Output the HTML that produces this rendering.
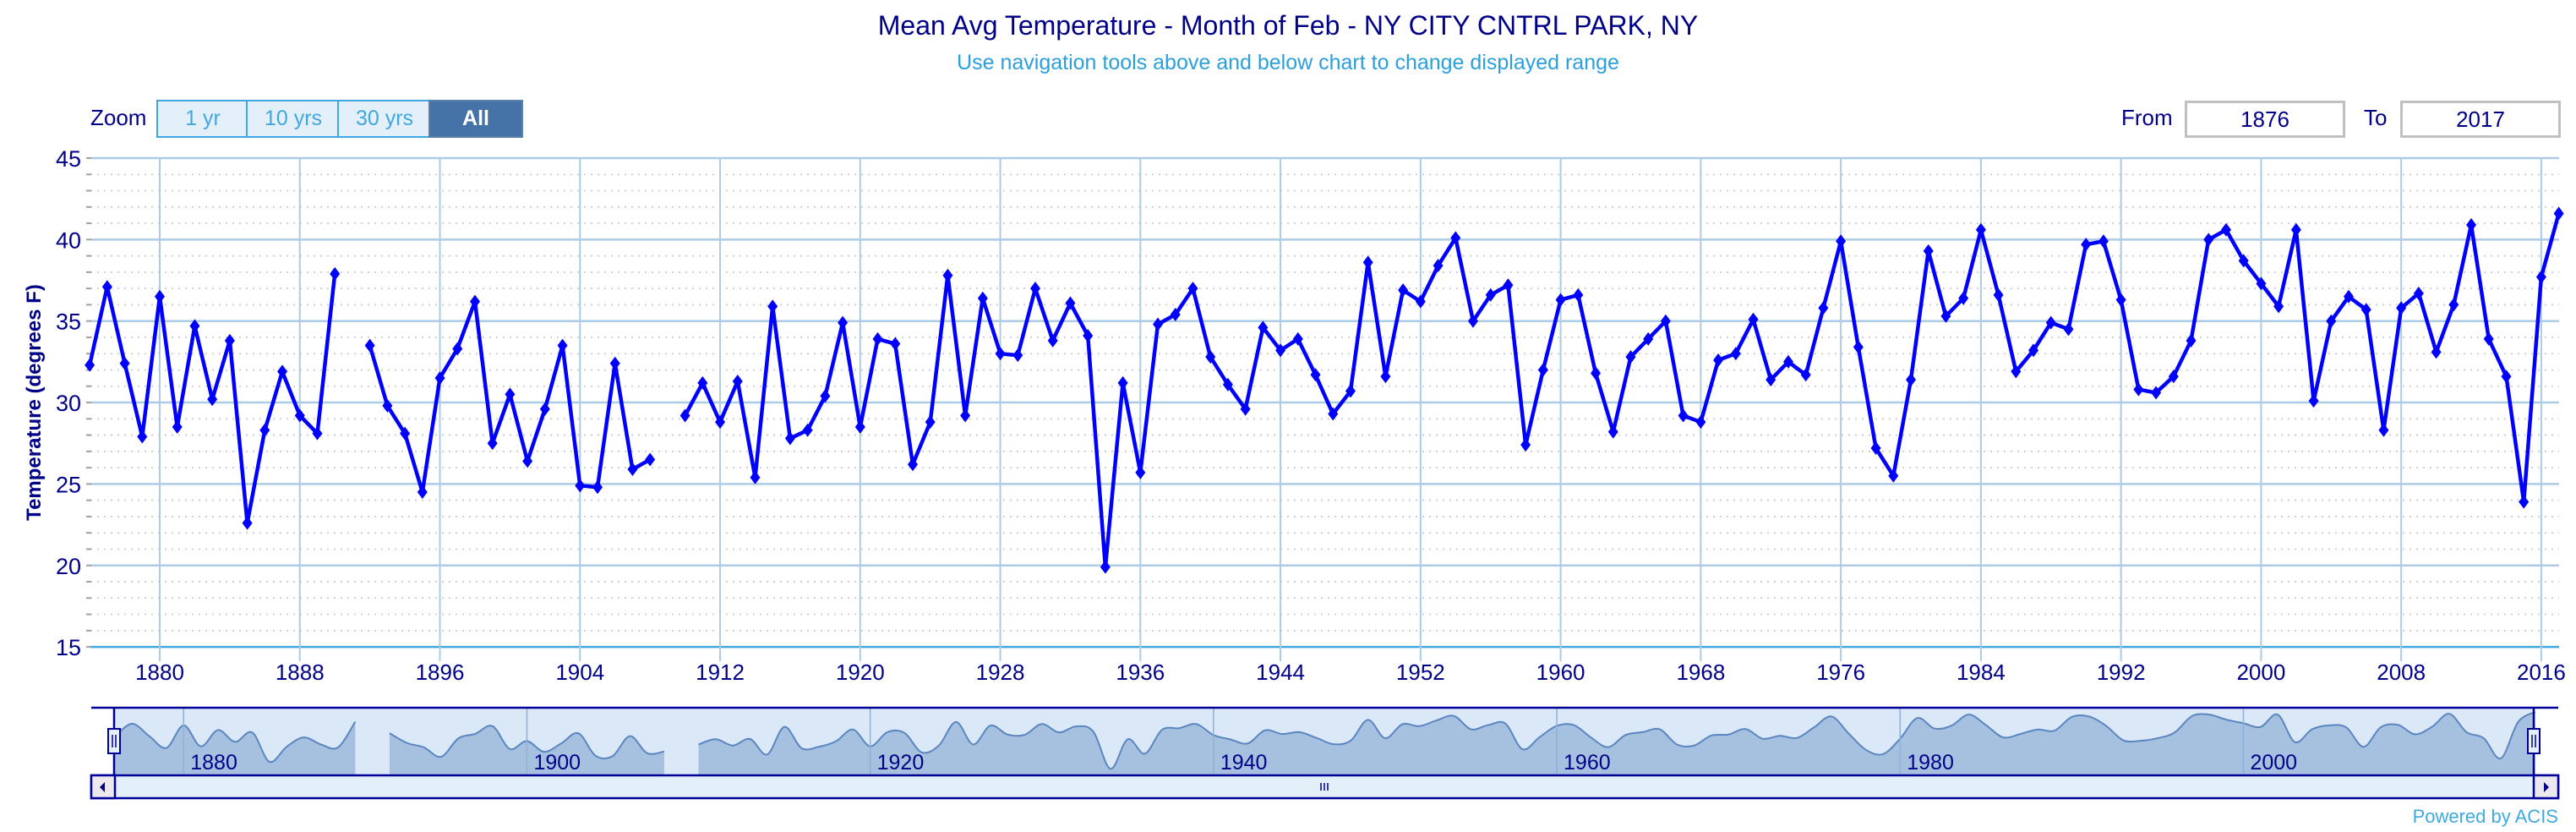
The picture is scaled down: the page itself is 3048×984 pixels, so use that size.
<!DOCTYPE html>
<html><head><meta charset="utf-8"><style>
html,body{margin:0;padding:0;background:#fff;}
body{width:3048px;height:984px;overflow:hidden;position:relative;font-family:"Liberation Sans",sans-serif;}
.t{position:absolute;white-space:nowrap;}
.btn{position:absolute;top:118px;height:41px;border:2px solid #41a7e0;background:#e3f0fa;color:#41a7e0;font-size:25px;text-align:center;line-height:41px;box-sizing:content-box;}
.box{position:absolute;top:119px;height:38px;width:184px;border:3px solid #c0c0c0;color:#000088;font-size:26px;text-align:center;line-height:38px;}
</style></head><body>
<div class="t" style="left:0;width:3048px;text-align:center;top:12px;font-size:32px;color:#000088;">Mean Avg Temperature - Month of Feb - NY CITY CNTRL PARK, NY</div>
<div class="t" style="left:0;width:3048px;text-align:center;top:60px;font-size:25px;color:#2a9fdc;">Use navigation tools above and below chart to change displayed range</div>
<div class="t" style="left:107px;top:124px;font-size:26px;color:#000088;">Zoom</div>
<div class="btn" style="left:185px;width:106px;">1 yr</div>
<div class="btn" style="left:291px;width:108px;">10 yrs</div>
<div class="btn" style="left:399px;width:108px;">30 yrs</div>
<div class="btn" style="left:507px;width:108px;background:#4572a7;border-color:#5a7fab;color:#fff;font-weight:bold;">All</div>
<div class="t" style="left:2510px;top:124px;font-size:26px;color:#000088;">From</div>
<div class="box" style="left:2585px;">1876</div>
<div class="t" style="left:2797px;top:124px;font-size:26px;color:#000088;">To</div>
<div class="box" style="left:2840px;">2017</div>
<div class="t" style="right:21px;top:953px;font-size:22px;color:#3fa9e0;">Powered by ACIS</div>
<svg id="s" width="3048" height="984" style="position:absolute;left:0;top:0;" xmlns="http://www.w3.org/2000/svg"></svg>
<script>
var d={1876:32.3,1877:37.1,1878:32.4,1879:27.9,1880:36.5,1881:28.5,1882:34.7,1883:30.2,1884:33.8,1885:22.6,1886:28.3,1887:31.9,1888:29.2,1889:28.1,1890:37.9,1892:33.5,1893:29.8,1894:28.1,1895:24.5,1896:31.5,1897:33.3,1898:36.2,1899:27.5,1900:30.5,1901:26.4,1902:29.6,1903:33.5,1904:24.9,1905:24.8,1906:32.4,1907:25.9,1908:26.5,
1910:29.2,1911:31.2,1912:28.8,1913:31.3,1914:25.4,1915:35.9,1916:27.8,1917:28.3,1918:30.4,1919:34.9,1920:28.5,1921:33.9,1922:33.6,1923:26.2,1924:28.8,1925:37.8,1926:29.2,1927:36.4,1928:33.0,1929:32.9,1930:37.0,1931:33.8,1932:36.1,1933:34.1,1934:19.9,1935:31.2,1936:25.7,1937:34.8,1938:35.4,1939:37.0,1940:32.8,1941:31.1,1942:29.6,1943:34.6,1944:33.2,1945:33.9,1946:31.7,1947:29.3,1948:30.7,1949:38.6,1950:31.6,1951:36.9,1952:36.2,1953:38.4,1954:40.1,1955:35.0,1956:36.6,1957:37.2,1958:27.4,1959:32.0,1960:36.3,1961:36.6,1962:31.8,1963:28.2,1964:32.8,1965:33.9,1966:35.0,1967:29.2,1968:28.8,1969:32.6,1970:33.0,1971:35.1,1972:31.4,1973:32.5,1974:31.7,1975:35.8,1976:39.9,1977:33.4,1978:27.2,1979:25.5,1980:31.4,1981:39.3,1982:35.3,1983:36.4,1984:40.6,1985:36.6,1986:31.9,1987:33.2,1988:34.9,1989:34.5,1990:39.7,1991:39.9,1992:36.3,1993:30.8,1994:30.6,1995:31.6,1996:33.8,1997:40.0,1998:40.6,1999:38.7,2000:37.3,2001:35.9,2002:40.6,2003:30.1,2004:35.0,2005:36.5,2006:35.7,2007:28.3,2008:35.8,2009:36.7,2010:33.1,2011:36.0,2012:40.9,2013:33.9,2014:31.6,2015:23.9,2016:37.7,2017:41.6};
var h='';
function X(y){return 189+(y-1880)*20.72;}
function Y(v){return 187+(45-v)*19.27;}
var L=107,R=3028;
for(var v=16;v<45;v++){if(v%5==0)continue;var y=Y(v);h+='<line x1="'+L+'" x2="'+R+'" y1="'+y+'" y2="'+y+'" stroke="#d0d0d0" stroke-width="2" stroke-dasharray="2,6"/>';h+='<line x1="102" x2="108" y1="'+y+'" y2="'+y+'" stroke="#a0a0a0" stroke-width="2"/>';}
for(var v=15;v<=45;v+=5){var y=Y(v);h+='<line x1="'+L+'" x2="'+R+'" y1="'+y+'" y2="'+y+'" stroke="'+(v==15?'#3fa9e0':'#abcbe6')+'" stroke-width="2.5"/>';h+='<line x1="102" x2="108" y1="'+y+'" y2="'+y+'" stroke="#a0a0a0" stroke-width="2"/>';h+='<text x="96" y="'+(y+10)+'" text-anchor="end" font-size="27" fill="#000088" font-family="Liberation Sans">'+v+'</text>';}
for(var yr=1880;yr<=2016;yr+=8){var x=X(yr);h+='<line x1="'+x+'" x2="'+x+'" y1="187" y2="782" stroke="#abcbe6" stroke-width="2"/>';h+='<text x="'+x+'" y="804" text-anchor="middle" font-size="26" fill="#000088" font-family="Liberation Sans">'+yr+'</text>';}
h+='<text transform="translate(48,476) rotate(-90)" text-anchor="middle" font-size="24" font-weight="bold" fill="#000088" font-family="Liberation Sans">Temperature (degrees F)</text>';
var segs=[],cur=[];
for(var yr=1876;yr<=2017;yr++){if(d[yr]===undefined){if(cur.length)segs.push(cur);cur=[];}else cur.push([yr,d[yr]]);}
if(cur.length)segs.push(cur);
segs.forEach(function(s){h+='<polyline fill="none" stroke="#0000ff" stroke-width="4.5" stroke-linejoin="round" points="'+s.map(function(p){return X(p[0]).toFixed(1)+','+Y(p[1]).toFixed(1)}).join(' ')+'"/>';});
for(var yr in d){var x=X(+yr),y=Y(d[yr]);h+='<path d="M'+x+' '+(y-8)+'L'+(x+6)+' '+y+'L'+x+' '+(y+8)+'L'+(x-6)+' '+y+'Z" fill="#0000ff"/>';}
function NX(y){return 136+(y-1876)*20.31;}
function NY(v){return 856+(37.1-v)*3.1;}
h+='<rect x="135" y="837" width="2863" height="79" fill="#dae8f8"/>';
segs.forEach(function(s){var p=s.map(function(q){return [NX(q[0]),NY(q[1])]});var path='M'+p[0][0]+' '+p[0][1];
for(var i=0;i<p.length-1;i++){var p0=p[i-1]||p[i],p1=p[i],p2=p[i+1],p3=p[i+2]||p2;
path+=' C'+(p1[0]+(p2[0]-p0[0])/6)+' '+(p1[1]+(p2[1]-p0[1])/6)+' '+(p2[0]-(p3[0]-p1[0])/6)+' '+(p2[1]-(p3[1]-p1[1])/6)+' '+p2[0]+' '+p2[1];}
h+='<path d="'+path+' L'+p[p.length-1][0]+' 916 L'+p[0][0]+' 916Z" fill="#a6c0df"/>';h+='<path d="'+path+'" fill="none" stroke="#5b86c0" stroke-width="2"/>';});
for(var yr=1880;yr<=2000;yr+=20){var x=NX(yr);h+='<line x1="'+x+'" x2="'+x+'" y1="837" y2="916" stroke="#8fb0d8" stroke-width="1.5"/>';h+='<text x="'+(x+8)+'" y="910" font-size="25" fill="#000088" font-family="Liberation Sans">'+yr+'</text>';}
h+='<line x1="108" x2="3027" y1="837" y2="837" stroke="#000099" stroke-width="2.5"/>';
h+='<line x1="135" x2="135" y1="837" y2="916" stroke="#000099" stroke-width="2.5"/><line x1="2998" x2="2998" y1="837" y2="916" stroke="#000099" stroke-width="2.5"/>';
[135,2998].forEach(function(x){h+='<rect x="'+(x-7)+'" y="862" width="14" height="29" fill="#e3f0fa" stroke="#000099" stroke-width="2"/><line x1="'+(x-2)+'" x2="'+(x-2)+'" y1="869" y2="884" stroke="#000099" stroke-width="1.5"/><line x1="'+(x+2)+'" x2="'+(x+2)+'" y1="869" y2="884" stroke="#000099" stroke-width="1.5"/>';});
h+='<rect x="108" y="917" width="2919" height="27" fill="#e3f0fa" stroke="#000099" stroke-width="2.5"/>';
h+='<rect x="108" y="917" width="28" height="27" fill="#ece8ee" stroke="#000099" stroke-width="2.5"/><rect x="2998" y="917" width="29" height="27" fill="#ece8ee" stroke="#000099" stroke-width="2.5"/>';
h+='<path d="M124 925 L118 931 L124 937Z" fill="#000088"/><path d="M3010 925 L3016 931 L3010 937Z" fill="#000088"/>';
h+='<line x1="1563" x2="1563" y1="926" y2="935" stroke="#000088" stroke-width="1.5"/><line x1="1567" x2="1567" y1="926" y2="935" stroke="#000088" stroke-width="1.5"/><line x1="1571" x2="1571" y1="926" y2="935" stroke="#000088" stroke-width="1.5"/>';
document.getElementById('s').innerHTML=h;
</script>
</body></html>
